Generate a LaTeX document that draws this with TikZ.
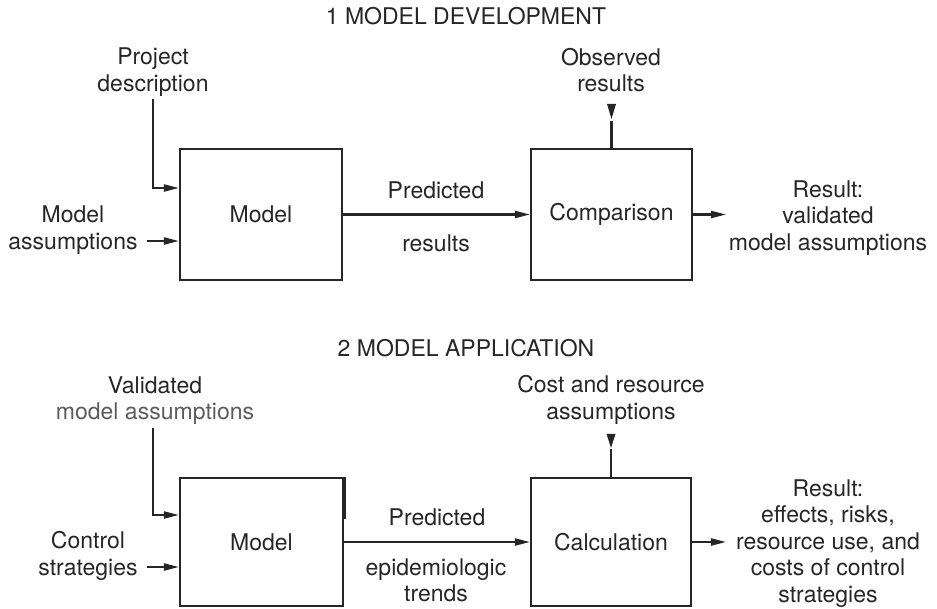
\documentclass[tikz,border=0pt]{standalone}
\usepackage{fontspec}
\setmainfont{TeX Gyre Heros}
\usetikzlibrary{arrows.meta}
\definecolor{ink}{HTML}{262626}
\begin{document}
\begin{tikzpicture}[x=1pt,y=-1pt,
  every node/.style={font=\fontsize{23}{26.5}\selectfont, text=ink, inner sep=0pt},
  lbl/.style={align=center},
  blk/.style={draw=ink, line width=2.1pt, rectangle},
  ln/.style={draw=ink, line width=2.1pt},
  arr/.style={ln, -{Triangle[length=15pt,width=7pt]}},
  tipdown/.style={fill=ink},
]
\useasboundingbox (0,0) rectangle (937,608);

% ---------- Part 1 ----------
\node (t1) at (466,16) {1 MODEL DEVELOPMENT};

\node[blk, minimum width=162pt, minimum height=131pt] (m1) at (261,214.5) {Model};
\node[blk, minimum width=161pt, minimum height=131pt] (cmp) at (611.5,214.5) {Comparison};

\node[lbl] (pd) at (153,72) {Project\\description};
\node[lbl] (ma) at (73,230) {Model\\assumptions};
\node[lbl] (obs) at (611,70) {Observed\\results};
\node (pr1) at (436,190) {Predicted};
\node (rs1) at (436,243) {results};
\node[lbl] (res1) at (828,218) {Result:\\validated\\model assumptions};

\draw[arr] ([yshift=-3pt]pd.south) |- ([yshift=26.5pt]m1.west);
\draw[arr] ([xshift=-32pt,yshift=-26.5pt]m1.west) -- ([yshift=-26.5pt]m1.west);
\draw[arr] (m1.east) -- (cmp.west);
\draw[ln] (cmp.north) -- ++(0,-27);
\coordinate (obstip) at ([yshift=29pt]cmp.north);
\fill[tipdown] (obstip) -- ++(-4.5,-15) -- ++(9,0) -- cycle;
\draw[arr] (cmp.east) -- ++(33,0);

% ---------- Part 2 ----------
\node (t2) at (466,348) {2 MODEL APPLICATION};

\node[blk, minimum width=163pt, minimum height=128pt] (m2) at (261.5,542) {Model};
\node[blk, minimum width=160pt, minimum height=128pt] (calc) at (611,542) {Calculation};
\draw[line width=3.5pt, draw=ink] (m2.north east) -- ++(0,42);

\node[lbl] (va) at (155,400.5) {Validated\\\textcolor{ink!75}{model assumptions}};
\node[lbl] (cs) at (88,556) {Control\\strategies};
\node[lbl] (cra) at (611,400) {Cost and resource\\assumptions};
\node (pr2) at (437,517) {Predicted};
\node[lbl] (et) at (436,580.5) {epidemiologic\\trends};
\node[lbl] (res2) at (828,543.5) {Result:\\effects, risks,\\resource use, and\\costs of control\\strategies};

\draw[arr] ([xshift=-2pt,yshift=-3pt]va.south) |- ([yshift=27pt]m2.west);
\draw[arr] ([xshift=-32pt,yshift=-25pt]m2.west) -- ([yshift=-25pt]m2.west);
\draw[arr] (m2.east) -- (calc.west);
\draw[ln] (calc.north) -- ++(0,-28);
\coordinate (costtip) at ([yshift=29pt]calc.north);
\fill[tipdown] (costtip) -- ++(-4.5,-14) -- ++(9,0) -- cycle;
\draw[arr] (calc.east) -- ++(34,0);
\end{tikzpicture}
\end{document}
